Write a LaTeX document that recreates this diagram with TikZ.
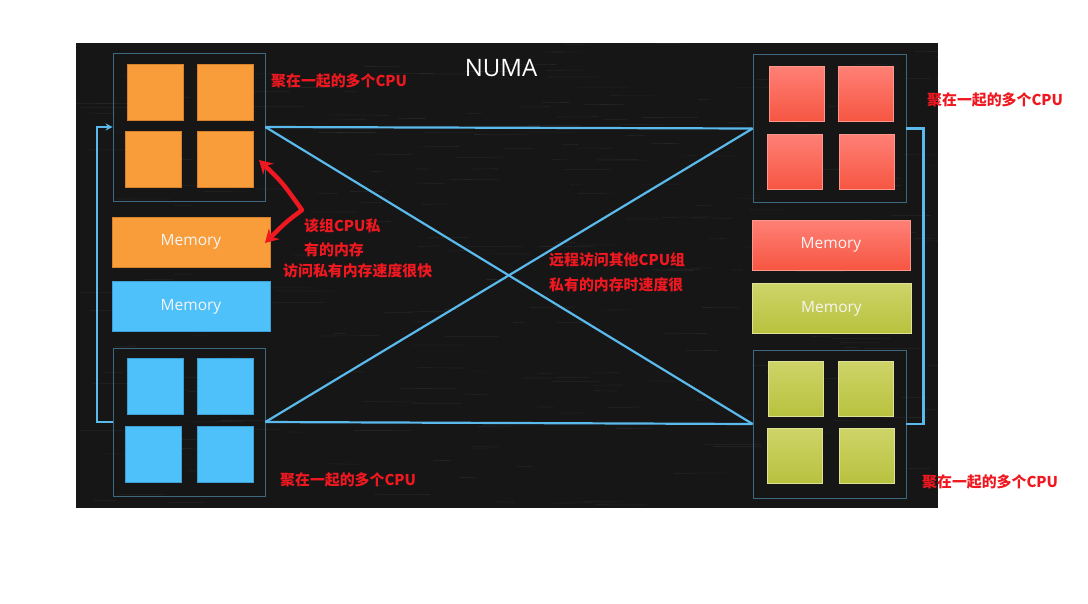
\documentclass[tikz,border=0pt]{standalone}
\usepackage{fontspec}
\setmainfont{Open Sans}
\newfontfamily\cjk{Noto Sans CJK SC}
\usetikzlibrary{arrows.meta,shadings}
\definecolor{bg}{RGB}{22,22,22}
\definecolor{grpline}{RGB}{62,104,126}
\definecolor{conncol}{RGB}{90,186,236}
\definecolor{orangec}{RGB}{248,157,58}
\definecolor{orangeb}{RGB}{214,130,45}
\definecolor{bluec}{RGB}{78,193,250}
\definecolor{blueb}{RGB}{60,160,215}
\definecolor{redtop}{RGB}{255,128,118}
\definecolor{redbot}{RGB}{246,86,66}
\definecolor{greentop}{RGB}{206,212,104}
\definecolor{greenbot}{RGB}{184,194,62}
\definecolor{greenb}{RGB}{222,226,150}
\definecolor{redb}{RGB}{255,150,140}
\definecolor{labelred}{RGB}{240,24,32}
\tikzset{
  grp/.style={draw=grpline, line width=0.8pt, inner sep=0pt, minimum width=152pt, minimum height=148pt},
  sq/.style={inner sep=0pt, minimum width=56pt, minimum height=56pt, line width=0.6pt},
  osq/.style={sq, fill=orangec, draw=orangeb},
  bsq/.style={sq, fill=bluec, draw=blueb},
  rsq/.style={sq, top color=redtop, bottom color=redbot, draw=redb},
  gsq/.style={sq, top color=greentop, bottom color=greenbot, draw=greenb},
  mem/.style={inner sep=0pt, minimum width=158pt, minimum height=50pt, line width=0.6pt, text=white!92!gray, font=\fontsize{15.5}{18}\selectfont},
  conn/.style={draw=conncol, line width=2.2pt},
  lab/.style={inner sep=0pt, anchor=west, text=labelred, font=\cjk\bfseries\fontsize{14.9}{17}\selectfont},
  streak/.style={draw=white, line width=0.6pt, opacity=0.06},
}
\begin{document}
\begin{tikzpicture}[x=1pt,y=-1pt]
\useasboundingbox (0,0) rectangle (1088,603);
\fill[bg] (76,43) rectangle (938,508);
% chalkboard texture
\pgfmathsetseed{7}
\begin{scope}
\clip (76,43) rectangle (938,508);
\foreach \i in {1,...,260}{
  \pgfmathsetmacro{\sx}{76+862*rnd}
  \pgfmathsetmacro{\sy}{43+465*rnd}
  \pgfmathsetmacro{\sl}{10+50*rnd}
  \draw[streak] (\sx,\sy) -- ++(\sl,0.8*rnd-0.4);
}
\end{scope}

% title
\node[text=white, font=\fontsize{24}{28}\selectfont, inner sep=0pt] (title) at (501,68) {NUMA};

% CPU groups
\node[grp] (TL) at (189,127) {};
\node[grp] (BL) at (189,422) {};
\node[grp, minimum width=153pt] (TR) at (829.5,128.5) {};
\node[grp, minimum width=153pt] (BR) at (829.5,424) {};

% top-left squares
\node[osq] (tl1) at (155,92) {};
\node[osq] (tl2) at (225,92) {};
\node[osq] (tl3) at (153,159) {};
\node[osq] (tl4) at (225.5,159) {};
% bottom-left squares
\node[bsq] (bl1) at (155,386.5) {};
\node[bsq] (bl2) at (225,386.5) {};
\node[bsq] (bl3) at (153,454) {};
\node[bsq] (bl4) at (225.5,454) {};
% top-right squares
\node[rsq, minimum width=55pt, minimum height=55pt] (tr1) at (796.5,93.5) {};
\node[rsq, minimum width=55pt, minimum height=55pt] (tr2) at (865.5,93.5) {};
\node[rsq, minimum width=55pt, minimum height=55pt] (tr3) at (794.5,161.5) {};
\node[rsq, minimum width=55pt, minimum height=55pt] (tr4) at (866.5,161.5) {};
% bottom-right squares
\node[gsq, minimum width=55pt, minimum height=55pt] (br1) at (796,388.5) {};
\node[gsq, minimum width=55pt, minimum height=55pt] (br2) at (865.5,388.5) {};
\node[gsq, minimum width=55pt, minimum height=55pt] (br3) at (794.5,456) {};
\node[gsq, minimum width=55pt, minimum height=55pt] (br4) at (866.5,456) {};

% memories
\node[mem, fill=orangec, draw=orangeb] (ml1) at (191,242) {Memory};
\node[mem, fill=bluec, draw=blueb] (ml2) at (191,306.5) {Memory};
\node[mem, top color=redtop, bottom color=redbot, draw=redb] (mr1) at (831,245) {Memory};
\node[mem, top color=greentop, bottom color=greenbot, draw=greenb, minimum width=159pt] (mr2) at (831.5,308.5) {Memory};

% connectors
\draw[conn] (TL.east) -- (TR.west);
\draw[conn] (BL.east) -- (BR.west);
\draw[conn] (TL.east) -- (BR.west);
\draw[conn] (BL.east) -- (TR.west);
\draw[conn, -{Stealth[length=7pt,width=7pt]}] (BL.west) -- ++(-16,0) |- (TL.west);
\draw[conn] (TR.east) -- ++(17,0) |- (BR.east);

% red hand-drawn arrow
\coordinate (ra) at (259,160);
\coordinate (rb) at (302,210);
\coordinate (rc) at (265,243);
\draw[labelred, line width=4.4pt, line join=round, line cap=round,
  {Stealth[length=13pt,width=15pt]}-{Stealth[length=13pt,width=15pt]}]
  (ra) .. controls (282,182) .. (rb) .. controls (286,222) .. (rc);

% labels
\node[lab] (l1) at (271,81) {聚在一起的多个CPU};
\node[lab] (l2) at (927,100) {聚在一起的多个CPU};
\node[lab] (l3) at (280,480) {聚在一起的多个CPU};
\node[lab] (l4) at (922,482) {聚在一起的多个CPU};
\node[lab] (p1) at (304,226) {该组CPU私};
\node[lab] (p2) at (304,250) {有的内存};
\node[lab] (p3) at (283,271) {访问私有内存速度很快};
\node[lab] (r1) at (549,260) {远程访问其他CPU组};
\node[lab] (r2) at (549,285) {私有的内存时速度很};
\end{tikzpicture}
\end{document}
